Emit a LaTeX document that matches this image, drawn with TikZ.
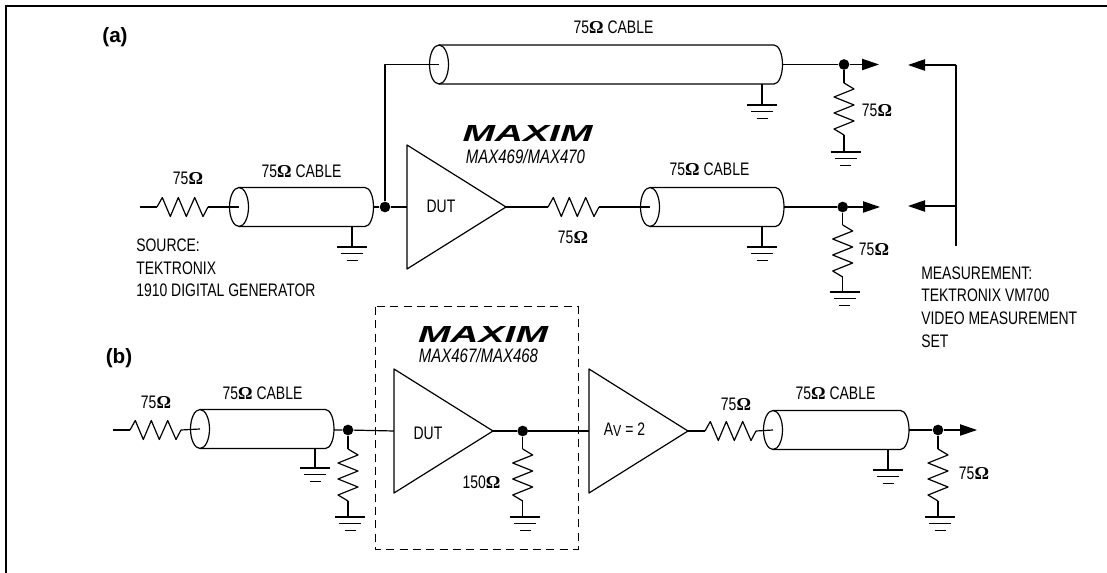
\documentclass[tikz,border=0pt]{standalone}
\usepackage{fontspec}
\setmainfont{Liberation Sans}[FakeStretch=0.77]
\newfontfamily\serifbold{Liberation Serif}[BoldFont=Liberation Serif Bold]
\newfontfamily\plainfont{Liberation Sans}
\usetikzlibrary{arrows.meta}
\newcommand{\ohmsym}{{\serifbold\bfseries Ω}}
\tikzset{
  wire/.style = {line width = 0.9pt, line join = round},
  sig/.style = {wire, -{Triangle[length = 12.75pt, width = 8.5pt]}},
  dot/.style = {circle, fill = black, inner sep = 0pt, minimum size = 8pt},
  lab/.style = {inner sep = 0pt, font = \fontsize{13.6}{17}\selectfont},
  part/.style = {inner sep = 0pt, font = \fontsize{14.6}{17}\selectfont\itshape},
  tag/.style = {inner sep = 0pt, font = \fontsize{15.5}{17}\selectfont\plainfont\bfseries},
  logo/.style = {inner sep = 0pt, font = \bfseries\itshape},
  pics/hres/.style = {code = {
    \draw [wire] (0, 0) -- (5.3, -9.5) -- (13.3, 9.5) -- (21.3, -9.5) -- (29.3, 9.5)
      -- (37.7, -9.5) -- (46, 9.5) -- (51, 0);
  }},
  pics/vres/.style = {code = {
    \draw [wire] (0, 0) -- (10, 6) -- (-10, 14) -- (10, 22) -- (-10, 30)
      -- (10, 38) -- (-10, 46) -- (0, 52);
  }},
  pics/gnd/.style = {code = {
    \draw [wire] (-15, 0) -- (15, 0);
    \draw [wire] (-11, 6.5) -- (11, 6.5);
    \draw [wire] (-5.5, 13.5) -- (5.5, 13.5);
  }},
  pics/cable/.style = {code = {
    \draw [wire] (0, 0) ellipse (9.5 and 19.5);
    \draw [wire] (0, -19.5) -- (#1 - 8.5, -19.5) arc (-90:90:8.5 and 19.5) -- (0, 19.5);
  }},
  pics/amp/.style = {code = {
    \draw [wire] (0, -62) -- (0, 62) -- (99, 0) -- cycle;
  }},
}

\begin{document}
\begin{tikzpicture}[x = 0.75pt, y = -0.75pt]

\useasboundingbox (0, 0) rectangle (1107, 573);

% frame
\coordinate (frameb) at (6, 573);
\coordinate (framec) at (6, 6.5);
\coordinate (framer) at (1107, 6.5);
\draw [line width = 1.5pt] (frameb) -- (framec) -- (framer);

% (a) input side
\node [tag] (taga) at (115, 37) {(a)};
\coordinate (srca) at (139.5, 207);
\coordinate (rsa) at (157, 207);
\coordinate (rsb) at (208, 207);
\coordinate (cabin) at (239, 207);
\coordinate (cabout) at (373, 207);
\coordinate (cabgnd) at (352, 226.5);
\coordinate (cabgndb) at (352, 247);
\node [dot] (split) at (385, 207) {};
\coordinate (dutain) at (407, 207);
\coordinate (dutaout) at (506, 207);
\pic at (rsa) {hres};
\pic at (cabin) {cable = 134.5};
\pic at (dutain) {amp};
\pic at (cabgndb) {gnd};
\draw [wire] (srca) -- (rsa);
\draw [wire] (rsb) -- (cabin);
\draw [wire] (cabout) -- (split) -- (dutain);
\draw [wire] (cabgnd) -- (cabgndb);
\node [lab] (rsalab) at (188, 178) {75\ohmsym};
\node [lab] (cabalab) at (301.5, 171) {75\ohmsym{} CABLE};
\node [lab, anchor = west, align = left] (source) at (136, 268) {SOURCE:\\TEKTRONIX\\1910 DIGITAL GENERATOR};
\node [lab] (duta) at (441, 206) {DUT};
\node [logo] (logoa) at (527.5, 134) {\resizebox{97.5pt}{12pt}{MAXIM}};
\node [part] (parta) at (525.5, 157) {MAX469/MAX470};

% (a) upper cable
\coordinate (bend) at (385, 64.5);
\coordinate (upin) at (439, 64.5);
\coordinate (upout) at (782.5, 64.5);
\coordinate (upgnd) at (762, 84);
\coordinate (upgndb) at (762, 105);
\node [dot] (upj) at (844, 64.5) {};
\coordinate (uptip) at (879, 64.5);
\coordinate (upra) at (844, 83);
\coordinate (uprb) at (844, 135);
\coordinate (upgb) at (845.5, 152);
\pic at (upin) {cable = 343.5};
\pic at (upgndb) {gnd};
\pic at (upra) {vres};
\pic at (upgb) {gnd};
\draw [wire] (split) -- (bend) -- (upin);
\draw [sig] (upout) -- (upj) -- (uptip);
\draw [wire] (upgnd) -- (upgndb);
\draw [wire] (upj) -- (upra);
\draw [wire] (uprb) -- (844, 152);
\node [lab] (upcablab) at (613.5, 27) {75\ohmsym{} CABLE};
\node [lab] (uprlab) at (877, 110) {75\ohmsym};

% (a) output side
\coordinate (roa) at (548, 207);
\coordinate (rob) at (599, 207);
\coordinate (outin) at (650, 207);
\coordinate (outout) at (784, 207);
\coordinate (outgnd) at (762, 226.5);
\coordinate (outgndb) at (762, 247);
\node [dot] (outj) at (842.7, 207) {};
\coordinate (outtip) at (880, 207);
\coordinate (outra) at (842.7, 225);
\coordinate (outrb) at (842.7, 277);
\coordinate (outgb) at (844.5, 292);
\pic at (roa) {hres};
\pic at (outin) {cable = 134};
\pic at (outgndb) {gnd};
\pic at (outra) {vres};
\pic at (outgb) {gnd};
\draw [wire] (dutaout) -- (roa);
\draw [wire] (rob) -- (outin);
\draw [sig] (outout) -- (outj) -- (outtip);
\draw [wire] (outgnd) -- (outgndb);
\draw [wire] (outj) -- (outra);
\draw [wire] (outrb) -- (842.7, 292);
\node [lab] (rolab) at (573, 237) {75\ohmsym};
\node [lab] (outcablab) at (709.5, 169) {75\ohmsym{} CABLE};
\node [lab] (outrlab) at (874, 249) {75\ohmsym};

% measurement
\coordinate (meastop) at (956, 65);
\coordinate (measmid) at (956, 206);
\coordinate (measend) at (956, 246);
\coordinate (tipup) at (908, 65);
\coordinate (tipdn) at (908, 206);
\draw [sig] (meastop) -- (tipup);
\draw [sig] (measmid) -- (tipdn);
\draw [wire] (meastop) -- (measend);
\node [lab, anchor = west, align = left] (meas) at (921, 307) {MEASUREMENT:\\TEKTRONIX VM700\\VIDEO MEASUREMENT\\SET};

% (b) input side
\node [tag] (tagb) at (119, 358) {(b)};
\coordinate (srcb) at (113, 430);
\coordinate (rba) at (130, 430);
\coordinate (rbb) at (181, 430);
\coordinate (cabbin) at (200, 429);
\coordinate (cabbout) at (334, 430);
\coordinate (cabbgnd) at (315, 448.5);
\coordinate (cabbgndb) at (315, 468);
\node [dot] (jb) at (348, 430) {};
\coordinate (jbra) at (348, 449);
\coordinate (jbrb) at (348, 501);
\coordinate (jbgb) at (350, 517);
\coordinate (dutbin) at (394, 431);
\coordinate (dutbout) at (493, 431);
\pic at (rba) {hres};
\pic at (cabbin) {cable = 134};
\pic at (cabbgndb) {gnd};
\pic at (jbra) {vres};
\pic at (jbgb) {gnd};
\pic at (dutbin) {amp};
\draw [wire] (srcb) -- (rba);
\draw [wire] (rbb) -- (cabbin);
\draw [wire] (cabbout) -- (jb) -- (dutbin);
\draw [wire] (cabbgnd) -- (cabbgndb);
\draw [wire] (jb) -- (jbra);
\draw [wire] (jbrb) -- (348, 517);
\node [lab] (rblab) at (156, 402) {75\ohmsym};
\node [lab] (cabblab) at (262.5, 393) {75\ohmsym{} CABLE};

% dashed box
\coordinate (boxa) at (375, 307);
\coordinate (boxb) at (578, 549);
\draw [line width = 0.75pt, dash pattern = on 6pt off 4pt] (boxa) rectangle (boxb);
\node [logo] (logob) at (483, 334.5) {\resizebox{97.5pt}{12pt}{MAXIM}};
\node [part] (partb) at (478.5, 356) {MAX467/MAX468};
\node [lab] (dutb) at (428, 433) {DUT};

% dut load
\node [dot] (jc) at (522.7, 431) {};
\coordinate (jcra) at (522.7, 449);
\coordinate (jcrb) at (522.7, 501);
\coordinate (jcgb) at (525, 517);
\coordinate (avin) at (589, 431);
\coordinate (avout) at (688, 431);
\pic at (jcra) {vres};
\pic at (jcgb) {gnd};
\pic at (avin) {amp};
\draw [wire] (dutbout) -- (jc) -- (avin);
\draw [wire] (jc) -- (jcra);
\draw [wire] (jcrb) -- (522.7, 517);
\node [lab] (jclab) at (481.5, 482) {150\ohmsym};
\node [lab] (avlab) at (624.5, 430) {A\raisebox{-1pt}{\fontsize{12}{12}\selectfont V} = 2};

% (b) output side
\coordinate (rca) at (705, 431);
\coordinate (rcb) at (756, 431);
\coordinate (cabcin) at (773, 430);
\coordinate (cabcout) at (909, 430);
\coordinate (cabcgnd) at (888, 449.5);
\coordinate (cabcgndb) at (888, 470);
\node [dot] (jd) at (938, 430) {};
\coordinate (tipb) at (977, 430);
\coordinate (jdra) at (938, 449);
\coordinate (jdrb) at (938, 501);
\coordinate (jdgb) at (940, 517);
\pic at (rca) {hres};
\pic at (cabcin) {cable = 136};
\pic at (cabcgndb) {gnd};
\pic at (jdra) {vres};
\pic at (jdgb) {gnd};
\draw [wire] (avout) -- (rca);
\draw [wire] (rcb) -- (cabcin);
\draw [sig] (cabcout) -- (jd) -- (tipb);
\draw [wire] (cabcgnd) -- (cabcgndb);
\draw [wire] (jd) -- (jdra);
\draw [wire] (jdrb) -- (938, 517);
\node [lab] (rclab) at (736, 404) {75\ohmsym};
\node [lab] (cabclab) at (835.5, 393) {75\ohmsym{} CABLE};
\node [lab] (jdlab) at (974, 473) {75\ohmsym};

\end{tikzpicture}
\end{document}
